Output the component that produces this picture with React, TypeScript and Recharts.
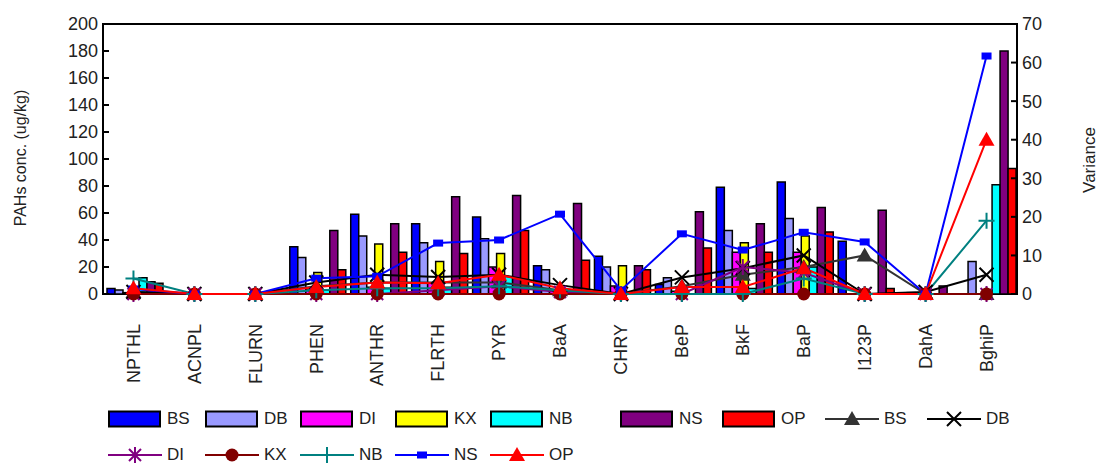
import React from "react";
import { Bar, ComposedChart, Line, ReferenceArea, XAxis, YAxis } from "recharts";

const categories = [
  "NPTHL", "ACNPL", "FLURN", "PHEN", "ANTHR", "FLRTH", "PYR", "BaA",
  "CHRY", "BeP", "BkF", "BaP", "I123P", "DahA", "BghiP",
];

// concentrations (left axis, ug/kg)
const bsConc = [4, 0, 0, 35, 59, 52, 57, 21, 28, 7, 79, 83, 39, 0, 0];
const dbConc = [3, 0, 0, 27, 43, 38, 41, 18, 20, 12, 47, 56, 0, 1, 24];
const diConc = [1, 0, 0, 3, 5, 8, 20, 2, 6, 2, 31, 31, 0, 0, 0];
const kxConc = [1, 0, 0, 16, 37, 24, 30, 1, 21, 3, 38, 43, 0, 0, 0];
const nbConc = [12, 0, 0, 3, 4, 5, 13, 2, 0, 0, 4, 20, 0, 0, 81];
const nsConc = [9, 0, 0, 47, 52, 72, 73, 67, 21, 61, 52, 64, 62, 6, 180];
const opConc = [8, 0, 0, 18, 31, 30, 47, 25, 18, 34, 31, 46, 4, 0, 93];

// variance (right axis)
const bsVar = [0.5, 0, 0, 2, 3, 3, 3, 1, 0, 2, 5, 7, 10, 0, 0];
const dbVar = [0.5, 0, 0, 3, 5, 4.4, 5, 2.3, 0, 4.3, 6.7, 10, 0, 0.5, 5];
const diVar = [0, 0, 0, 0, 0, 1, 2, 0.5, 0, 0, 7, 5.5, 0, 0, 0];
const kxVar = [0, 0, 0, 0, 0, 0, 0, 0, 0, 0, 0, 0, 0, 0, 0];
const nbVar = [4, 0, 0, 1, 1.5, 1.5, 2, 1, 0, 0, 0, 4, 0, 0, 19];
const nsVar = [1.3, 0, 0, 4.1, 4.6, 13.2, 14, 20.7, 1, 15.6, 11.4, 16, 13.5, 0, 61.7];
const opVar = [1.5, 0, 0, 1.8, 3, 2.8, 5, 1.5, 0, 1.8, 1.8, 6.7, 0, 0, 40];

const concTicks = [0, 20, 40, 60, 80, 100, 120, 140, 160, 180, 200];
const varTicks = [0, 10, 20, 30, 40, 50, 60, 70];

const data = categories.map((name, i) => ({
  name,
  bsConc: bsConc[i], dbConc: dbConc[i], diConc: diConc[i], kxConc: kxConc[i],
  nbConc: nbConc[i], nsConc: nsConc[i], opConc: opConc[i],
  bsVar: bsVar[i], dbVar: dbVar[i], diVar: diVar[i], kxVar: kxVar[i],
  nbVar: nbVar[i], nsVar: nsVar[i], opVar: opVar[i],
}));

type Shape = "triangle" | "cross" | "asterisk" | "circle" | "plus" | "square";

const barSeries = [
  { key: "bsConc", name: "BS", color: "#0000FF" },
  { key: "dbConc", name: "DB", color: "#9999FF" },
  { key: "diConc", name: "DI", color: "#FF00FF" },
  { key: "kxConc", name: "KX", color: "#FFFF00" },
  { key: "nbConc", name: "NB", color: "#00FFFF" },
  { key: "nsConc", name: "NS", color: "#800080" },
  { key: "opConc", name: "OP", color: "#FF0000" },
];

const lineSeries: { key: string; name: string; color: string; shape: Shape }[] = [
  { key: "bsVar", name: "BS", color: "#333333", shape: "triangle" },
  { key: "dbVar", name: "DB", color: "#000000", shape: "cross" },
  { key: "diVar", name: "DI", color: "#800080", shape: "asterisk" },
  { key: "kxVar", name: "KX", color: "#800000", shape: "circle" },
  { key: "nbVar", name: "NB", color: "#008080", shape: "plus" },
  { key: "nsVar", name: "NS", color: "#0000FF", shape: "square" },
  { key: "opVar", name: "OP", color: "#FF0000", shape: "triangle" },
];

const FONT = '"Liberation Sans", Arial, sans-serif';

function Marker({ shape, cx, cy, color }: { shape: Shape; cx: number; cy: number; color: string }) {
  switch (shape) {
    case "triangle":
      return <polygon points={`${cx},${cy - 8} ${cx - 8},${cy + 6} ${cx + 8},${cy + 6}`} fill={color} />;
    case "cross":
      return (
        <path
          d={`M${cx - 7},${cy - 7}L${cx + 7},${cy + 7}M${cx - 7},${cy + 7}L${cx + 7},${cy - 7}`}
          stroke={color}
          strokeWidth={2}
          fill="none"
        />
      );
    case "asterisk":
      return (
        <path
          d={`M${cx - 6},${cy - 6}L${cx + 6},${cy + 6}M${cx - 6},${cy + 6}L${cx + 6},${cy - 6}M${cx},${cy - 8}L${cx},${cy + 8}`}
          stroke={color}
          strokeWidth={2}
          fill="none"
        />
      );
    case "circle":
      return <circle cx={cx} cy={cy} r={6.5} fill={color} />;
    case "plus":
      return (
        <path
          d={`M${cx - 8},${cy}L${cx + 8},${cy}M${cx},${cy - 8}L${cx},${cy + 8}`}
          stroke={color}
          strokeWidth={2}
          fill="none"
        />
      );
    case "square":
      return <rect x={cx - 5} y={cy - 3.5} width={10} height={7} fill={color} />;
  }
  return null;
}

function CategoryTick(props: any) {
  const { x, y, payload } = props;
  return (
    <text
      x={x}
      y={y + 22}
      transform={`rotate(-90, ${x}, ${y + 22})`}
      textAnchor="end"
      dy="0.35em"
      fontSize={18}
      fontFamily={FONT}
      fill="#222"
    >
      {payload.value}
    </text>
  );
}

type LegendItem = { kind: "bar" | "line"; name: string; color: string; shape?: Shape; left: number };

const legendRow1: LegendItem[] = [
  ...barSeries.map((s, i) => ({
    kind: "bar" as const,
    name: s.name,
    color: s.color,
    left: [108, 205, 300, 395, 490, 620, 722][i],
  })),
  { kind: "line", name: "BS", color: "#333333", shape: "triangle", left: 825 },
  { kind: "line", name: "DB", color: "#000000", shape: "cross", left: 927 },
];

const legendRow2: LegendItem[] = lineSeries.slice(2).map((s, i) => ({
  kind: "line" as const,
  name: s.name,
  color: s.color,
  shape: s.shape,
  left: [108, 205, 300, 395, 490][i],
}));

function LegendEntry({ item, top }: { item: LegendItem; top: number }) {
  return (
    <div style={{ position: "absolute", left: item.left, top: top - 9, height: 18, display: "flex", alignItems: "center" }}>
      <svg width={54} height={18}>
        {item.kind === "bar" ? (
          <rect x={1} y={1.5} width={51} height={15} fill={item.color} stroke="#000" strokeWidth={2} />
        ) : (
          <>
            <line x1={0} y1={9} x2={54} y2={9} stroke={item.color} strokeWidth={2} />
            <Marker shape={item.shape!} cx={27} cy={9} color={item.color} />
          </>
        )}
      </svg>
      <span style={{ marginLeft: 5, fontSize: 17, fontFamily: FONT, color: "#222", lineHeight: "18px" }}>
        {item.name}
      </span>
    </div>
  );
}

export default function App() {
  return (
    <div style={{ position: "absolute", left: 0, top: 0, width: 1100, height: 464, background: "#fff" }}>
      <ComposedChart
        width={1100}
        height={464}
        data={data}
        margin={{ top: 24, right: 0, left: 0, bottom: 70 }}
        barCategoryGap={4}
        barGap={0}
      >
        <XAxis
          dataKey="name"
          height={100}
          interval={0}
          tickLine={false}
          axisLine={false}
          tick={<CategoryTick />}
        />
        <YAxis
          yAxisId="conc"
          width={103}
          domain={[0, 200]}
          ticks={concTicks}
          tickSize={-6}
          tickMargin={11}
          axisLine={false}
          tickLine={{ stroke: "#000", strokeWidth: 2 }}
          tick={{ fontSize: 18, fill: "#222", fontFamily: FONT }}
          label={{
            value: "PAHs conc. (ug/kg)",
            content: () => (
              <text
                x={20}
                y={158}
                transform="rotate(-90, 20, 158)"
                textAnchor="middle"
                dy="0.35em"
                fontSize={16}
                fontFamily={FONT}
                fill="#222"
              >
                PAHs conc. (ug/kg)
              </text>
            ),
          }}
        />
        <YAxis
          yAxisId="var"
          orientation="right"
          width={83}
          domain={[0, 70]}
          ticks={varTicks}
          tickSize={-6}
          tickMargin={11}
          axisLine={false}
          tickLine={{ stroke: "#000", strokeWidth: 2 }}
          tick={{ fontSize: 18, fill: "#222", fontFamily: FONT }}
          label={{
            value: "Variance",
            content: () => (
              <text
                x={1089}
                y={160}
                transform="rotate(-90, 1089, 160)"
                textAnchor="middle"
                dy="0.35em"
                fontSize={17}
                fontFamily={FONT}
                fill="#222"
              >
                Variance
              </text>
            ),
          }}
        />
        {barSeries.map((s) => (
          <Bar
            key={s.key}
            yAxisId="conc"
            dataKey={s.key}
            name={s.name}
            fill={s.color}
            stroke="#000"
            strokeWidth={1.5}
            isAnimationActive={false}
          />
        ))}
        {lineSeries.map((s) => (
          <Line
            key={s.key}
            yAxisId="var"
            type="linear"
            dataKey={s.key}
            name={s.name}
            stroke={s.color}
            strokeWidth={2}
            isAnimationActive={false}
            dot={(p: any) => (
              <Marker key={`${s.key}-${p.index}`} shape={s.shape} cx={p.cx} cy={p.cy} color={s.color} />
            )}
            activeDot={false}
          />
        ))}
        <ReferenceArea yAxisId="conc" y1={0} y2={200} fill="none" stroke="#000" strokeWidth={2} ifOverflow="visible" />
      </ComposedChart>
      {legendRow1.map((item, i) => (
        <LegendEntry key={`r1-${i}`} item={item} top={419} />
      ))}
      {legendRow2.map((item, i) => (
        <LegendEntry key={`r2-${i}`} item={item} top={455} />
      ))}
    </div>
  );
}
